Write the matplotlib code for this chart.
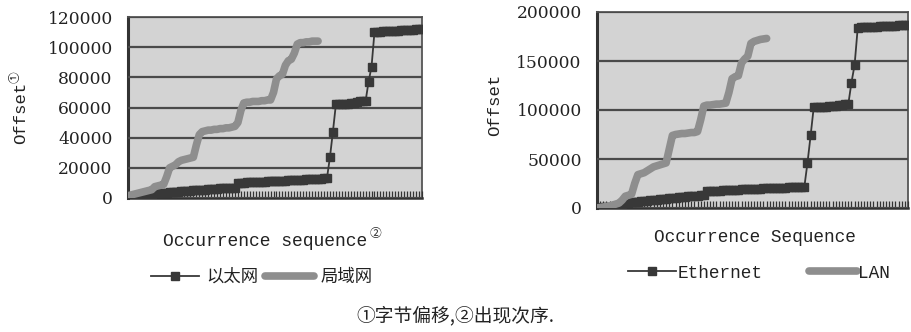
import numpy as np
import matplotlib.pyplot as plt

# ---- data ----
# left chart (Chinese legend)
left_eth = [0, 200, 400, 600, 800, 1000, 1300, 1600, 2000,
            3000, 3200, 3300, 3500, 3600, 3800, 3900, 4100, 4200, 4400,
            4500, 4700, 4800, 5000, 5100, 5300, 5400, 5600, 5700, 5900,
            6000, 6200, 6300, 6400, 6500, 6600, 6700, 6800,
            10000, 10100, 10200, 10300, 10400, 10500, 10600, 10700, 10800,
            10900, 11000, 11100, 11200, 11300, 11400, 11500, 11600, 11700,
            11800, 11900, 12000, 12100, 12200, 12300, 12400, 12500, 12700,
            12800, 12900, 13100, 13300,
            27000, 44000,
            62000, 62000, 62200, 62400, 62500, 62700, 63000, 63500, 64000,
            64000, 64200,
            77000, 87000,
            110000, 110100, 110300, 110400, 110500, 110700, 110800, 110900,
            111000, 111200, 111300, 111400, 111500, 111600, 111800, 111900,
            112000]
left_lan = [1500, 2000, 2500, 3000, 3500, 4000, 4500, 5000, 5500,
            7500, 8000, 8500, 9000, 14000, 20000, 21000, 22000, 24000,
            25000, 25500, 26000, 26500, 27000, 35000, 42000, 44000, 44500,
            45000, 45000, 45500, 45500, 46000, 46000, 46500, 46500, 47000,
            47500, 50000, 58000, 63000, 63500, 63500, 64000, 64000, 64000,
            64500, 64500, 65000, 65000, 70000, 79000, 81000, 82000, 88000,
            91000, 92000, 96000, 102000, 103000, 103000, 103500, 103500,
            104000, 104000, 104000]

# right chart (English legend)
right_eth = [0, 300, 600, 900, 1200, 1500, 2000, 2500,
             4000, 5000, 5500, 6000, 6300, 6600, 7000, 7300, 7600, 8000,
             8300, 8600, 9000, 9300, 9600, 10000, 10300, 10600, 11000,
             11300, 11600, 12000, 12200, 12400, 12600, 12800, 13000,
             17000, 17200, 17400, 17500, 17700, 17900, 18000, 18200, 18400,
             18500, 18700, 18900, 19000, 19200, 19300, 19500, 19600, 19800,
             19900, 20000, 20200, 20300, 20500, 20600, 20700, 20900, 21000,
             21100, 21200, 21300, 21400, 21500,
             46000, 74000,
             103000, 103000, 103200, 103400, 103500, 103700, 104000, 104500,
             105000, 105500, 106000, 106000,
             128000, 146000,
             184000, 184200, 184400, 184600, 184800, 185000, 185200, 185400,
             185500, 185700, 185900, 186000, 186200, 186300, 186500, 186600,
             186800]
right_lan = [0, 500, 1000, 1500, 2000, 3000, 4000, 5000,
             8000, 12000, 13000, 14000, 25000, 34000, 35000, 36000, 38000,
             40000, 42000, 43000, 44000, 45000, 46000, 60000, 74000, 75000,
             75500, 76000, 76000, 76500, 77000, 77000, 78000, 90000, 104000,
             105000, 105000, 105500, 106000, 106000, 106500, 107000, 118000,
             132000, 134000, 135000, 148000, 152000, 155000, 168000, 170000,
             171000, 172000, 172500, 173000]

left_yticks = [0, 20000, 40000, 60000, 80000, 100000, 120000]
right_yticks = [0, 50000, 100000, 150000, 200000]

ETH_C = '#383838'
LAN_C = '#8e8e8e'
TXT_C = '#222222'
MONO = 'Liberation Mono'
CJK = ['Noto Sans CJK SC', 'DejaVu Sans']

fig = plt.figure(figsize=(9.11, 3.32), dpi=100)

def draw_panel(rect, eth, lan, yticks):
    ax = fig.add_axes(rect)
    ax.set_facecolor('#d3d3d3')
    x_eth = np.arange(len(eth))
    x_lan = np.arange(len(lan))
    h_eth, = ax.plot(x_eth, eth, color=ETH_C, lw=1.3, marker='s', ms=6,
                     mec=ETH_C, mfc=ETH_C, zorder=3)
    h_lan, = ax.plot(x_lan, lan, color=LAN_C, lw=5.5,
                     solid_capstyle='round', zorder=4)
    ax.set_xlim(0, len(eth) - 1)
    ax.set_ylim(yticks[0], yticks[-1])
    ax.set_yticks(yticks)
    ax.set_yticklabels([str(v) for v in yticks], family='DejaVu Serif',
                       fontsize=12.3, color=TXT_C)
    ax.tick_params(axis='y', length=0, pad=11)
    ax.set_xticks(np.arange(len(eth)))
    ax.set_xticklabels([])
    ax.tick_params(axis='x', direction='in', length=5, width=0.9,
                   color='#333333')
    ax.yaxis.grid(True, color='#4a4a4a', lw=1.6)
    ax.set_axisbelow(False)
    for s in ax.spines.values():
        s.set_color('#555555')
        s.set_linewidth(1.3)
    ax.spines['left'].set_color('#333333')
    ax.spines['left'].set_linewidth(2.2)
    ax.spines['bottom'].set_color('#333333')
    ax.spines['bottom'].set_linewidth(1.8)
    return ax, h_eth, h_lan

# left panel
axl, le, ll = draw_panel([128/911, 1 - 198/332, 294/911, 181/332],
                         left_eth, left_lan, left_yticks)
fig.text(21/911, 1 - 113/332, 'Offset', rotation=90, ha='center',
         va='center', family=MONO, fontsize=12.5, color=TXT_C)
fig.text(15/911, 1 - 77/332, '①', rotation=90, ha='center', va='center',
         family=CJK, fontsize=8.5, color=TXT_C)
fig.text(265/911, 1 - 242/332, 'Occurrence sequence', ha='center',
         va='center', family=MONO, fontsize=13, color=TXT_C)
fig.text(375/911, 1 - 234/332, '②', ha='center', va='center',
         family=CJK, fontsize=8.5, color=TXT_C)
fig.legend([le, ll], ['以太网', '局域网'], loc='center',
           bbox_to_anchor=(262/911, 1 - 277/332), ncol=2, frameon=False,
           handlelength=2.8, handletextpad=0.4, columnspacing=0.4,
           prop={'family': CJK, 'size': 12.5}, labelcolor=TXT_C)

# right panel
axr, re, rl = draw_panel([597/911, 1 - 208/332, 311/911, 196/332],
                         right_eth, right_lan, right_yticks)
fig.text(495/911, 1 - 105/332, 'Offset', rotation=90, ha='center',
         va='center', family=MONO, fontsize=12.5, color=TXT_C)
fig.text(755/911, 1 - 238/332, 'Occurrence Sequence', ha='center',
         va='center', family=MONO, fontsize=12.8, color=TXT_C)
fig.legend([re, rl], ['Ethernet', 'LAN'], loc='center',
           bbox_to_anchor=(759/911, 1 - 273/332), ncol=2, frameon=False,
           handlelength=2.7, handletextpad=0.1, columnspacing=2.6,
           prop={'family': MONO, 'size': 12.8}, labelcolor=TXT_C)

# footnote
fig.text(455/911, 1 - 316/332, '①字节偏移,②出现次序.', ha='center',
         va='center', family=CJK, fontsize=13.5, color=TXT_C)

fig.savefig('out.png', dpi=100)
